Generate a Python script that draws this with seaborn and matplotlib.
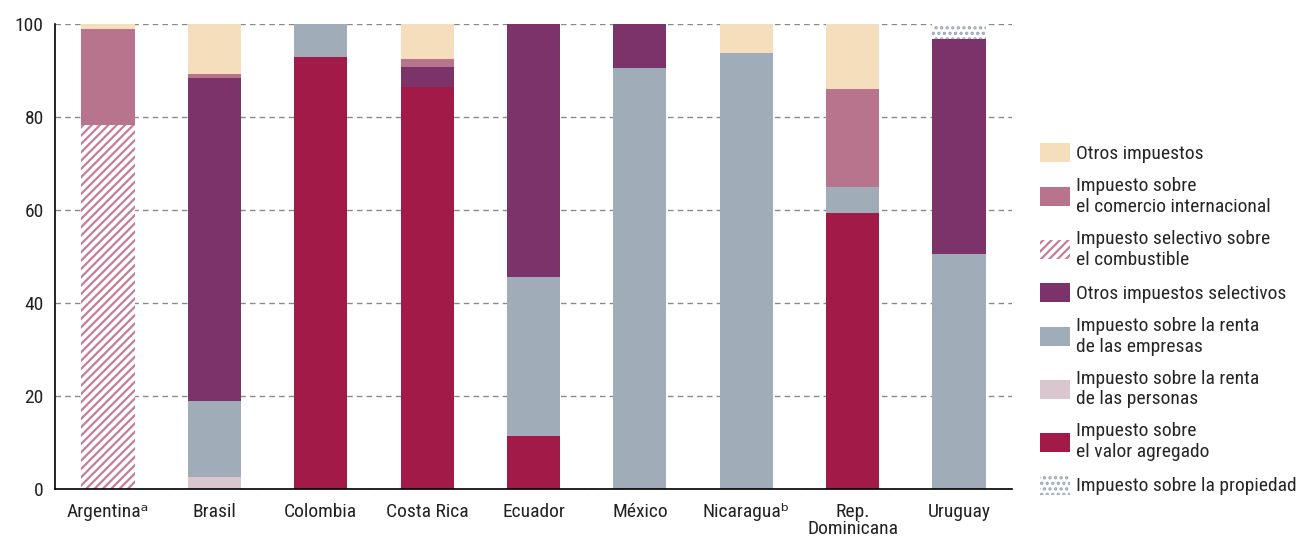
import numpy as np
import pandas as pd
import matplotlib
matplotlib.use("Agg")
import matplotlib.pyplot as plt
from matplotlib import font_manager
from matplotlib.patches import Patch
import seaborn as sns

countries = ["Argentinaᵃ", "Brasil", "Colombia", "Costa Rica", "Ecuador",
             "México", "Nicaraguaᵇ", "Rep.\nDominicana", "Uruguay"]

# stacking order: bottom to top
iva        = [0,    0,    92.9, 86.5, 11.4, 0,    0,    59.4, 0]
personas   = [0,    2.6,  0,    0,    0,    0,    0,    0,    0]
empresas   = [0,    16.3, 7.1,  0,    34.2, 90.6, 93.8, 5.5,  50.6]
otros_sel  = [0,    69.4, 0,    4.3,  54.4, 9.4,  0,    0,    46.2]
combust    = [78.3, 0,    0,    0,    0,    0,    0,    0,    0]
comercio   = [20.6, 0.9,  0,    1.6,  0,    0,    0,    21.1, 0]
otros      = [1.1,  10.8, 0,    7.6,  0,    0,    6.2,  13.9, 0]
propiedad  = [0,    0,    0,    0,    0,    0,    0,    0,    3.2]

names = ["Impuesto sobre\nel valor agregado", "Impuesto sobre la renta\nde las personas",
         "Impuesto sobre la renta\nde las empresas", "Otros impuestos selectivos",
         "Impuesto selectivo sobre\nel combustible", "Impuesto sobre\nel comercio internacional",
         "Otros impuestos", "Impuesto sobre la propiedad"]
layers = [iva, personas, empresas, otros_sel, combust, comercio, otros, propiedad]
colors = ["#A11A48", "#D9C6CF", "#A1ACB9", "#7C3369", "#FFFFFF", "#B8738D", "#F4DEBB", "#FFFFFF"]
hatches = [None, None, None, None, "////", None, None, "..."]
hatch_colors = [None, None, None, None, "#C47E98", None, None, "#9AA8BC"]

avail = {f.name for f in font_manager.fontManager.ttflist}
fam = "DejaVu Sans"
for cand in ["Liberation Sans Narrow", "Roboto Condensed", "Open Sans Condensed", "Roboto"]:
    if cand in avail:
        fam = cand
        break

sns.set_theme(style="white")
plt.rcParams["font.family"] = [fam, "DejaVu Sans"]
plt.rcParams["hatch.linewidth"] = 1.6

fig = plt.figure(figsize=(13.06, 5.39), dpi=100)
ax = fig.add_axes([0.042, 0.0928, 0.733, 0.8627])

cum = np.cumsum(np.array(layers), axis=0)
# draw from top layer down so lower layers overlay
for k in range(len(layers) - 1, -1, -1):
    df = pd.DataFrame({"country": countries, "value": cum[k]})
    n_before = len(ax.patches)
    sns.barplot(data=df, x="country", y="value", color=colors[k], width=0.5,
                saturation=1, ax=ax, linewidth=0, zorder=2, errorbar=None)
    for p in ax.patches[n_before:]:
        p.set_facecolor(colors[k])
        if hatches[k]:
            p.set_hatch(hatches[k])
            p.set_edgecolor(hatch_colors[k])
            p.set_linewidth(0)

ax.set_xlim(-0.5, 8.5)
ax.set_ylim(0, 100)
ax.set_yticks([0, 20, 40, 60, 80, 100])
ax.set_xlabel("")
ax.set_ylabel("")
ax.yaxis.grid(True, color="#8A8A8A", linestyle=(0, (4, 3)), linewidth=1.0, zorder=0)
ax.set_axisbelow(True)
for s in ["top", "right"]:
    ax.spines[s].set_visible(False)
for s in ["left", "bottom"]:
    ax.spines[s].set_color("black")
    ax.spines[s].set_linewidth(1.2)
ax.tick_params(axis="x", which="major", length=0, labelsize=14, pad=10, colors="#222222")
ax.set_xticks(np.arange(-0.5, 9, 1), minor=True)
ax.tick_params(axis="x", which="minor", length=7, width=1.2, direction="out", color="black")
ax.tick_params(axis="y", length=5, width=1.2, direction="out", labelsize=14, colors="#222222", pad=3)
for lab in ax.get_xticklabels():
    lab.set_linespacing(0.95)

leg_order = [6, 5, 4, 3, 2, 1, 0, 7]
handles = []
for k in leg_order:
    if hatches[k]:
        h = Patch(facecolor="white", edgecolor=hatch_colors[k], hatch=hatches[k], linewidth=0, label=names[k])
    else:
        h = Patch(facecolor=colors[k], linewidth=0, label=names[k])
    handles.append(h)
fig.legend(handles=handles, loc="center left", bbox_to_anchor=(0.796, 0.408), frameon=False,
           fontsize=14, handlelength=1.55, handleheight=1.15, handletextpad=0.3,
           labelspacing=0.72, borderaxespad=0, borderpad=0)

fig.savefig("out.png", dpi=100)
